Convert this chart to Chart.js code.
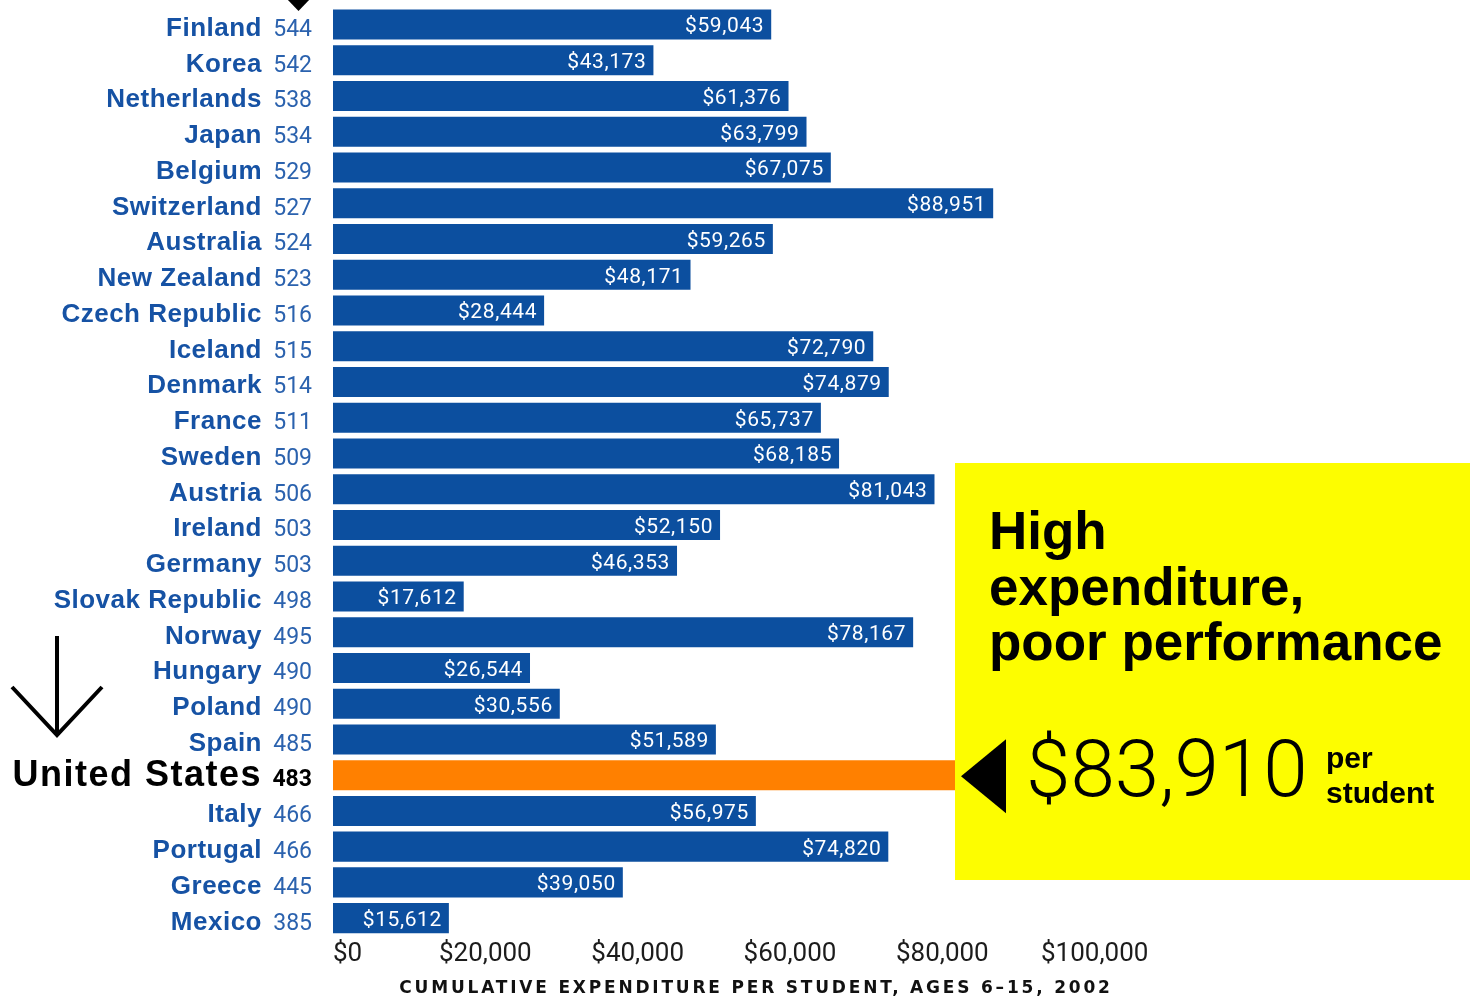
<!DOCTYPE html>
<html>
<head>
<meta charset="utf-8">
<script src="https://cdn.jsdelivr.net/npm/chart.js@4.4.1/dist/chart.umd.min.js"></script>
<style>
  html, body { margin: 0; padding: 0; background: #fff; }
  #wrap { position: relative; width: 1470px; height: 998px; }
</style>
</head>
<body>
<div id="wrap"><canvas id="spendChart"></canvas></div>
<script>
// PISA score next to cumulative spending per student
const countries = ['Finland', 'Korea', 'Netherlands', 'Japan', 'Belgium', 'Switzerland', 'Australia',
    'New Zealand', 'Czech Republic', 'Iceland', 'Denmark', 'France', 'Sweden', 'Austria', 'Ireland',
    'Germany', 'Slovak Republic', 'Norway', 'Hungary', 'Poland', 'Spain', 'United States', 'Italy',
    'Portugal', 'Greece', 'Mexico'];
const scores = [544, 542, 538, 534, 529, 527, 524, 523, 516, 515, 514, 511, 509, 506, 503, 503, 498,
    495, 490, 490, 485, 483, 466, 466, 445, 385];
const spending = [59043, 43173, 61376, 63799, 67075, 88951, 59265, 48171, 28444, 72790, 74879, 65737,
    68185, 81043, 52150, 46353, 17612, 78167, 26544, 30556, 51589, 83910, 56975, 74820, 39050, 15612];
const axisTicks = [0, 20000, 40000, 60000, 80000, 100000];
const highlight = 'United States';
const calloutLines = ['High', 'expenditure,', 'poor performance'];
const calloutUnit = ['per', 'student'];
const axisTitle = 'CUMULATIVE EXPENDITURE PER STUDENT, AGES 6\u201315, 2002';

const BLUE = '#0c4f9f';
const ORANGE = '#ff8000';
const YELLOW = '#fdfd00';
const money = v => '$' + v.toLocaleString('en-US');

const hlIndex = countries.indexOf(highlight);

// labels, arrows and the yellow callout
const decor = {
    id: 'decor',
    afterDatasetsDraw(chart) {
        const ctx = chart.ctx;
        const yScale = chart.scales.y;
        const bars = chart.getDatasetMeta(0).data;

        ctx.save();
        // values inside the bars
        ctx.font = '400 21px Roboto, sans-serif';
        ctx.letterSpacing = '0.6px';
        ctx.fillStyle = '#ffffff';
        ctx.textAlign = 'right';
        ctx.textBaseline = 'alphabetic';
        bars.forEach((bar, i) => {
            if (i === hlIndex) return;
            ctx.fillText(money(spending[i]), bar.x - 7, bar.y + 8);
        });

        // country names and scores
        countries.forEach((name, i) => {
            const y = yScale.getPixelForValue(i);
            if (i === hlIndex) {
                ctx.fillStyle = '#000';
                ctx.letterSpacing = '1.5px';
                ctx.font = 'bold 36px "Liberation Sans", Arial, sans-serif';
                ctx.fillText(name, 262, y + 10.5);
                ctx.letterSpacing = '0px';
                ctx.font = 'bold 23px Roboto, sans-serif';
                ctx.fillText(String(scores[i]), 312, y + 10.5);
            } else {
                ctx.fillStyle = '#1652a4';
                ctx.letterSpacing = '0.5px';
                ctx.font = 'bold 26px "Liberation Sans", Arial, sans-serif';
                ctx.fillText(name, 262, y + 11.5);
                ctx.letterSpacing = '0px';
                ctx.fillStyle = '#2b62ae';
                ctx.font = '400 23px Roboto, sans-serif';
                ctx.fillText(String(scores[i]), 312, y + 11.5);
            }
        });

        // little marker at the top
        ctx.fillStyle = '#000';
        ctx.beginPath();
        ctx.moveTo(286, -2);
        ctx.lineTo(311, -2);
        ctx.lineTo(298.5, 11);
        ctx.closePath();
        ctx.fill();

        // down arrow next to the US
        ctx.strokeStyle = '#000';
        ctx.lineWidth = 4;
        ctx.beginPath();
        ctx.moveTo(57, 636);
        ctx.lineTo(57, 735);
        ctx.moveTo(12, 687);
        ctx.lineTo(57, 735);
        ctx.lineTo(102, 687);
        ctx.stroke();

        // axis title
        ctx.font = 'bold 17px "DejaVu Sans", sans-serif';
        ctx.letterSpacing = '2.8px';
        ctx.textAlign = 'center';
        ctx.fillStyle = '#111';
        ctx.fillText(axisTitle, 756, 993);

        // yellow callout
        ctx.letterSpacing = '0px';
        ctx.fillStyle = YELLOW;
        ctx.fillRect(955, 463, 515, 417);
        ctx.fillStyle = '#000';
        ctx.textAlign = 'left';
        ctx.font = 'bold 53px "Liberation Sans", Arial, sans-serif';
        calloutLines.forEach((line, k) => ctx.fillText(line, 989, 549 + k * 55.5));

        const usBar = bars[hlIndex];
        ctx.beginPath();
        ctx.moveTo(961, usBar.y + 1);
        ctx.lineTo(1006, usBar.y - 36);
        ctx.lineTo(1006, usBar.y + 38);
        ctx.closePath();
        ctx.fill();

        ctx.font = '300 80px Roboto, sans-serif';
        ctx.fillText(money(spending[hlIndex]), 1026, 796);
        ctx.font = 'bold 30px "Liberation Sans", Arial, sans-serif';
        ctx.fillText(calloutUnit[0], 1326, 768);
        ctx.fillText(calloutUnit[1], 1326, 803);
        ctx.restore();
    }
};

const ctx = document.getElementById('spendChart').getContext('2d');
const spendChart = new Chart(ctx, {
    type: 'bar',
    data: {
        labels: countries,
        datasets: [{
            data: spending,
            backgroundColor: countries.map(c => c === highlight ? ORANGE : BLUE),
            borderWidth: 0,
            barPercentage: 0.84,
            categoryPercentage: 1
        }]
    },
    options: {
        indexAxis: 'y',
        responsive: true,
        maintainAspectRatio: false,
        animation: false,
        events: [],
        layout: { padding: { left: 333, right: 223, top: 6.6, bottom: 24.8 } },
        plugins: { legend: { display: false }, tooltip: { enabled: false } },
        scales: {
            y: {
                type: 'category',
                display: false,
                offset: true
            },
            x: {
                // bar scale
                display: false,
                min: 0,
                max: 123150
            },
            x2: {
                // printed tick labels (spaced a bit wider than the bars in the original)
                axis: 'x',
                position: 'bottom',
                min: 0,
                max: 120000,
                grid: { display: false, drawTicks: false },
                border: { display: false },
                afterBuildTicks: scale => {
                    scale.ticks = axisTicks.concat([120000]).map(v => ({ value: v }));
                },
                ticks: {
                    align: 'inner',
                    padding: 3,
                    color: '#1c1c1c',
                    font: { family: 'Roboto', size: 26, weight: '400' },
                    callback: v => axisTicks.includes(v) ? money(v) : ''
                }
            }
        }
    },
    plugins: [decor]
});
</script>
</body>
</html>
